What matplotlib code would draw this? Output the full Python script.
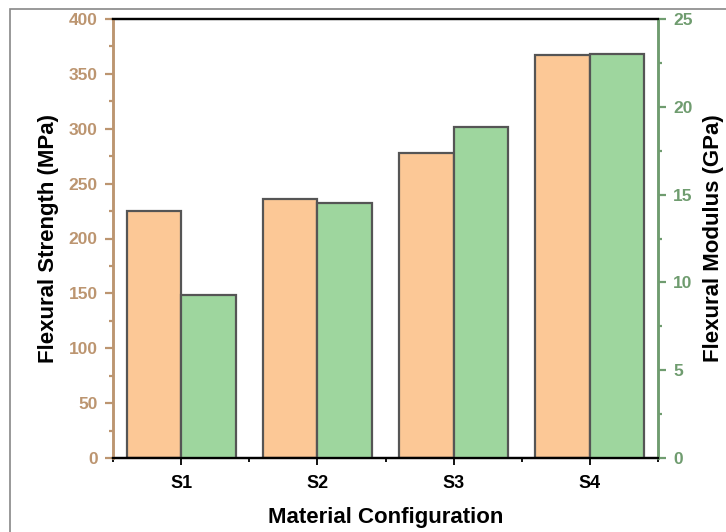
import matplotlib.pyplot as plt
from matplotlib.patches import Rectangle
import numpy as np

plt.rcParams['font.family'] = ['Liberation Sans', 'DejaVu Sans']
plt.rcParams['font.weight'] = 'bold'

categories = ['S1', 'S2', 'S3', 'S4']
strength_mpa = [225, 236, 278, 367]
modulus_gpa = [9.3, 14.5, 18.85, 23.0]

tan = '#BC9570'
green = '#6F9C6F'
orange_fill = '#FCC896'
green_fill = '#9ED69E'
edge = '#555555'

fig = plt.figure(figsize=(7.26, 5.32), dpi=100)
ax = fig.add_axes([113 / 726, 1 - 458 / 532, 545 / 726, 439 / 532])
ax2 = ax.twinx()

x = np.arange(1, len(categories) + 1)
w = 0.4
ax.bar(x - w / 2, strength_mpa, width=w, color=orange_fill, edgecolor=edge, linewidth=1.6, zorder=2)
ax2.bar(x + w / 2, modulus_gpa, width=w, color=green_fill, edgecolor=edge, linewidth=1.6, zorder=2)

ax.set_xlim(0.5, 4.5)
ax.set_ylim(0, 400)
ax2.set_ylim(0, 25)

ax.set_xticks(x)
ax.set_xticklabels(categories, fontsize=13, fontweight='bold')
ax.set_xticks(np.arange(0.5, 4.6, 1.0), minor=True)
ax.set_yticks(np.arange(0, 401, 50))
ax.set_yticks(np.arange(25, 400, 50), minor=True)
ax2.set_yticks(np.arange(0, 26, 5))
ax2.set_yticks(np.arange(2.5, 25, 5), minor=True)

ax.tick_params(axis='x', which='major', length=5, width=1.3, color='black', pad=7)
ax.tick_params(axis='x', which='minor', length=3, width=1.3, color='black')
ax.tick_params(axis='y', which='major', length=6, width=1.6, color=tan, labelcolor=tan,
               labelsize=12.5, pad=5)
ax.tick_params(axis='y', which='minor', length=3, width=1.6, color=tan)
ax2.tick_params(axis='y', which='major', length=6, width=1.6, color=green, labelcolor=green,
                labelsize=12.5, pad=5)
ax2.tick_params(axis='y', which='minor', length=3, width=1.6, color=green)
for lbl in ax.get_yticklabels() + ax2.get_yticklabels():
    lbl.set_fontweight('bold')

for a in (ax, ax2):
    a.spines['left'].set_color(tan)
    a.spines['right'].set_color(green)
    a.spines['left'].set_linewidth(1.8)
    a.spines['right'].set_linewidth(1.8)
    a.spines['top'].set_linewidth(1.6)
    a.spines['bottom'].set_linewidth(1.6)

ax.set_xlabel('Material Configuration', fontsize=16, fontweight='bold', labelpad=11)
ax.set_ylabel('Flexural Strength (MPa)', fontsize=16, fontweight='bold', labelpad=7)
ax2.set_ylabel('Flexural Modulus (GPa)', fontsize=16, fontweight='bold', labelpad=7)

# outer frame of the original figure
fig.patches.append(Rectangle((10 / 726, -0.1), 1.2, 1 - 9 / 532 + 0.1, transform=fig.transFigure,
                             fill=False, edgecolor='#888888', linewidth=1.2))

fig.savefig('out.png', dpi=100)
